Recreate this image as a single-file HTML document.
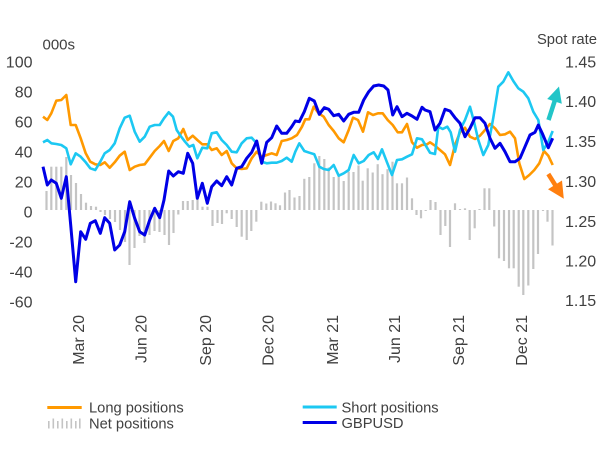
<!DOCTYPE html>
<html><head><meta charset="utf-8"><style>
html,body{margin:0;padding:0;background:#fff;}
svg{display:block;font-family:"Liberation Sans",Arial,sans-serif;}
</style></head><body>
<svg width="602" height="449" viewBox="0 0 602 449" xmlns="http://www.w3.org/2000/svg">
<rect width="602" height="449" fill="#fff"/>
<!-- left axis -->
<g font-size="16" fill="#404040" text-anchor="end">
<text x="32.5" y="67.5">100</text>
<text x="32.5" y="97.5">80</text>
<text x="32.5" y="127.5">60</text>
<text x="32.5" y="157.5">40</text>
<text x="32.5" y="187.5">20</text>
<text x="32.5" y="217.5">0</text>
<text x="32.5" y="247.5">-20</text>
<text x="32.5" y="277.5">-40</text>
<text x="32.5" y="307.5">-60</text>
</g>
<text x="42.5" y="49.3" font-size="15" fill="#404040">000s</text>
<text x="597" y="44" font-size="14.8" fill="#404040" text-anchor="end">Spot rate</text>
<g font-size="16" fill="#404040">
<text x="565" y="67.5">1.45</text>
<text x="565" y="107">1.40</text>
<text x="565" y="147">1.35</text>
<text x="565" y="187">1.30</text>
<text x="565" y="227">1.25</text>
<text x="565" y="266.5">1.20</text>
<text x="565" y="306">1.15</text>
</g>
<!-- x labels -->
<g font-size="16" fill="#404040" text-anchor="end">
<text transform="translate(84,315) rotate(-90)">Mar 20</text>
<text transform="translate(146.5,315) rotate(-90)">Jun 20</text>
<text transform="translate(211,315) rotate(-90)">Sep 20</text>
<text transform="translate(273.5,315) rotate(-90)">Dec 20</text>
<text transform="translate(338,315) rotate(-90)">Mar 21</text>
<text transform="translate(400,315) rotate(-90)">Jun 21</text>
<text transform="translate(464,315) rotate(-90)">Sep 21</text>
<text transform="translate(527,315) rotate(-90)">Dec 21</text>
</g>
<!-- bars -->
<g id="bars" fill="#c4c4c4"></g>
<!-- lines -->
<polyline fill="none" stroke="#FF9900" stroke-width="2.6" stroke-linejoin="round" points="43,116.7 47.3,120 51.3,113.3 56.3,100.7 61.3,100 66.3,95 70.7,125 75.7,125 80.7,138.3 85.7,153.3 90.3,161.7 95.3,164.3 100.3,165 104.7,162.3 109.7,167.7 114.7,162.3 119.7,155.7 124.7,151.7 129.7,170 134.7,166.7 139.7,165 144.7,164.3 149.7,157.7 154.7,151 159.7,146 164,141 168.7,151 173.3,141 178.3,138.3 183.3,129 187.7,140 192.7,135.7 197.3,140 202.3,144.3 207.3,144.3 211.7,150 216.7,148.3 221.7,155 226.7,151 231.7,163.3 236.7,168.3 241.7,169 246.7,168.3 251.7,158.3 256.7,151.7 261.7,156.7 266.7,155 271.7,153.3 276.7,155 281.7,141 286.7,140 291.7,138.3 297,135 302,126.7 305.3,119.3 309.3,119.3 313.7,106.7 318.7,113.3 323.7,116.7 328.7,125 333.7,131 338.7,138.3 343.7,142.3 348.7,130 353,117.7 358,120 363,131.7 368,112.3 373,115 378,113.3 382.7,113.3 387.7,120 392.7,125 397.7,132.3 402,132.3 407,124 412,142.3 417,147.7 422,145 427,144.3 430,142.3 435,145.7 440,150 445,154.3 450,165 455,145 460,132.3 465,127.7 470,136.7 475,139 480,135.7 485,130 490,124 495,128.3 500,135 505,134.3 510,131.7 515,138.3 519.3,163.3 524.3,179 529.3,175 534.3,170 539.3,163.3 544,151 548.3,155.7 552.7,165"/>
<polyline fill="none" stroke="#1CC8F2" stroke-width="2.6" stroke-linejoin="round" points="43,142.3 47.3,140 51.3,143.3 56.3,144 61.3,145 66.3,148.3 70.7,164.3 75.7,153.3 80.7,156.7 85.7,162.3 90.3,168.3 95.3,170 100.3,161.7 104.7,153.3 109.7,150 114.7,143.3 119.7,128.3 124.7,117.7 129.7,115.7 134.7,131.7 139.7,141.7 144.7,136.7 149.7,126.7 154.7,125 159.7,125 164,118.3 168.7,112.3 173,116.7 176.7,130 180.7,136 185,141.7 189.3,146.7 193.3,145 197.3,158.3 202.3,147.7 207.3,148.3 211.7,133.3 216.7,132.3 221.7,140 226.7,145 231.7,151.7 236.7,152.3 241.7,143.3 246.7,138.3 251.7,137.7 256.7,143.3 261.7,161.7 266.7,163.3 271.7,162.7 276.7,162.7 281.7,161 286.7,157.7 291.7,161.7 295.3,151.7 299.3,143.3 304.3,151 309.3,152.7 314.3,154.3 319.3,166.7 323.7,169 328.7,170 333.7,165 338.7,175.7 343.7,173.3 348.7,170 353.7,155 358.7,163.3 363.7,161 368.7,155 373.7,152.3 378,159 382,149.3 387,162.3 392,175 397,160 402,159.3 407,156.7 412,154.3 417,138.3 422,139.3 425,144.3 430,152.7 435,154 438.3,126.7 442.7,129 447.3,126.7 450.7,132.3 455,151.7 460,130 465,120 470,106.7 474,121.7 478.3,140 483.3,155 488.3,145 493.3,117.7 498.3,86.7 503.3,81.7 508.3,72.3 513.3,81 518.3,88.3 523.3,91.7 528.3,98.3 533.3,111.7 538.3,120 543.3,150 548.3,141.7 552.7,131"/>
<polyline fill="none" stroke="#0000E6" stroke-width="3" stroke-linejoin="round" points="43,166.7 47.3,185 51.3,180 56.3,183.3 61.3,198.3 66.3,176.7 70.7,225 75.7,281.7 80.7,231.7 85.7,239.3 90.3,223.3 95.3,220.7 100.3,233.3 104.7,217.7 109.7,223.3 114.7,250 119.7,245 124.7,231.7 129.7,201.7 134.7,218.3 139.7,231.7 144.7,235 149.7,220 154.7,208.3 159.7,217.7 164,200 168.7,171 173.3,176 178.3,171.7 183.3,173.3 187.7,153.3 192.7,163.3 197.3,198.3 202.3,183.3 207.3,203.3 211.7,186.7 216.7,181 221.7,185.7 226.7,176.7 231.7,185 236.7,168.3 241.7,166.7 246.7,158.3 251.7,152.3 256.7,141 261.7,163.3 266.7,142.3 271.7,137.7 276.7,126 281.7,133.3 286.7,133.3 291.7,126.7 295.3,121 299.3,121.7 304.3,111.7 309.3,98.3 314.3,101 319.3,114.3 324.3,107.7 328.7,109.3 333.7,115.7 338.7,114.3 343.7,121 348.7,114.3 353.7,112.3 358.7,112.3 363.7,100 368.7,91.7 373.7,86 378.7,85 383.7,86 388,90 392.7,115 397,106.7 402,116.7 407,113.3 412,116 417,119.3 422,107.3 425,110 430,111.7 435,130 440,123.3 445,109.3 450,111 455,117.7 460,123.3 465,136.7 470,128.3 475,117.7 480,117.7 485,123.3 490,138.3 495,148.3 500,143.3 505,151.7 510,161.7 515,161.7 520,158.3 525,146.7 530,135 535,132.3 538.3,125 542.7,134.3 548.3,147.7 552.7,138.3"/>
<!-- arrows -->
<line x1="548.5" y1="120" x2="555" y2="100" stroke="#22C5C8" stroke-width="4.5"/>
<polygon points="559,86.5 561.8,103.8 547.2,99" fill="#22C5C8"/>
<line x1="548.3" y1="174" x2="555.5" y2="185.5" stroke="#FF7F0F" stroke-width="4.5"/>
<polygon points="563.8,198.8 562,180.5 548,189.3" fill="#FF7F0F"/>
<!-- legend -->
<line x1="47.3" y1="407.5" x2="81.7" y2="407.5" stroke="#FF9900" stroke-width="3"/>
<text x="89" y="412.5" font-size="14.7" fill="#404040">Long positions</text>
<g fill="#c4c4c4">
<rect x="48" y="421" width="1.6" height="7.5"/>
<rect x="52.5" y="418.5" width="1.6" height="10"/>
<rect x="57" y="421" width="1.6" height="7.5"/>
<rect x="61.5" y="418.5" width="1.6" height="10"/>
<rect x="66" y="421" width="1.6" height="7.5"/>
<rect x="70.5" y="418.5" width="1.6" height="10"/>
<rect x="75" y="421" width="1.6" height="7.5"/>
<rect x="79" y="418.5" width="1.6" height="10"/>
</g>
<text x="89" y="428.5" font-size="14.7" fill="#404040">Net positions</text>
<line x1="302.7" y1="407" x2="336.7" y2="407" stroke="#1CC8F2" stroke-width="3"/>
<text x="341.5" y="412.3" font-size="14.7" fill="#404040">Short positions</text>
<line x1="302.7" y1="422.5" x2="336.7" y2="422.5" stroke="#0000E6" stroke-width="3"/>
<text x="341.5" y="428" font-size="14.7" fill="#404040">GBPUSD</text>
</svg>
<script>
(function(){
var d=[[46.5,191],[51.3,166.7],[56.3,166.7],[61.3,166.7],[66.3,157],[71,175],[76,183],[81,194],[86,202.7],[91,206],[96,206.7],[100.5,212],[105,215],[110,219],[115,222],[120,230],[125,242],[129.5,265],[134.5,248],[139.5,236],[144.5,243],[149.5,235],[154.5,231],[159.5,232],[164.5,235],[169,245],[173.5,233],[178.3,214.5],[183,201],[187.7,201],[192.7,200],[197.5,198.3],[202.5,206.7],[207.5,206.7],[212.5,226],[217.5,223],[222,224],[226.7,213.3],[231.7,219],[236.7,227],[241.7,236.7],[246.7,240],[251.3,231],[256.3,221.7],[261.3,201.7],[266.3,203.5],[271,201.5],[275.5,203.3],[280,205.3],[285,192.5],[289.5,190],[294.5,197.5],[299.5,196],[304.3,178.8],[309.3,177],[314.3,163.3],[319.3,156],[324.3,159],[328.7,167.5],[333.7,177],[338.7,175],[343.7,181],[348.7,171.7],[353.5,172],[358.5,165.5],[362.7,180.7],[367.7,168.3],[372.7,172.5],[377.7,164.2],[382.5,174.2],[387.5,169.2],[392.5,161.7],[397,183.3],[402,183.3],[407,177.5],[412,198.3],[416.5,215],[421,218.3],[425.7,211],[430.5,200],[435.5,202],[440.5,235],[445.3,226],[450,247],[455,203.3],[460,209],[465,208.3],[469.7,240],[474.7,228.3],[479.5,209],[484.5,188.3],[489.3,188.3],[494.2,226.5],[499,258.3],[504,261],[509,268.3],[513.7,268.3],[518.7,286.7],[523.3,295],[528.3,285.5],[533.3,269],[538,254],[543,211],[547.5,221.7],[552.5,245.5]];
var g=document.getElementById('bars'),ns='http://www.w3.org/2000/svg',b=210;
d.forEach(function(p){var r=document.createElementNS(ns,'rect');var t=Math.min(p[1],b),h=Math.abs(p[1]-b);if(h<0.8)h=0.8;r.setAttribute('x',p[0]-1.1);r.setAttribute('y',t);r.setAttribute('width',2.2);r.setAttribute('height',h);g.appendChild(r);});
})();
</script>
</body></html>
